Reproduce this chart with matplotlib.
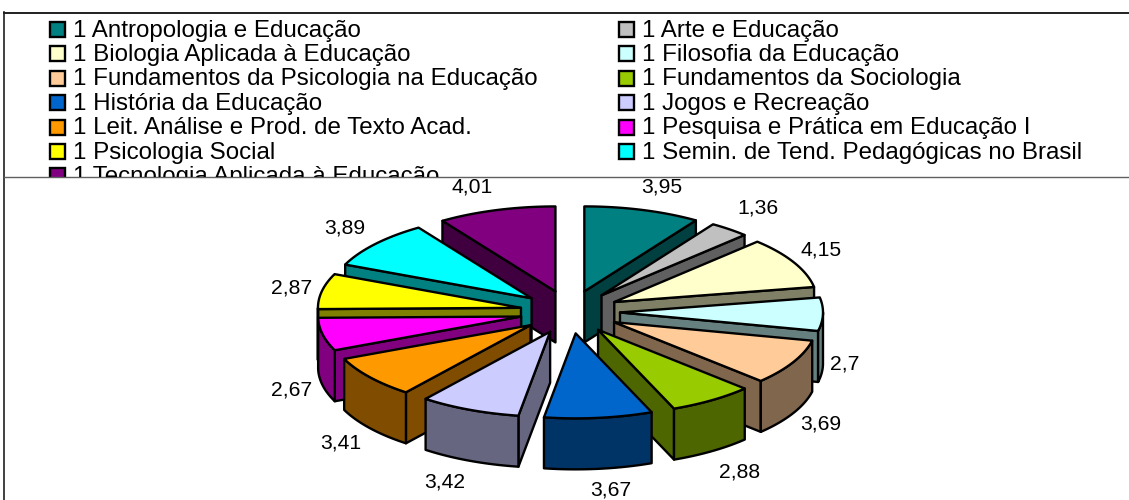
import numpy as np
import matplotlib
matplotlib.use('Agg')
import matplotlib.pyplot as plt
from matplotlib.patches import Polygon, Rectangle
from matplotlib.colors import to_rgb

plt.rcParams['font.family'] = ['Liberation Sans', 'DejaVu Sans']

names = ['1 Antropologia e Educação', '1 Arte e Educação', '1 Biologia Aplicada à Educação',
         '1 Filosofia da Educação', '1 Fundamentos da Psicologia na Educação',
         '1 Fundamentos da Sociologia', '1 História da Educação', '1 Jogos e Recreação',
         '1 Leit. Análise e Prod. de Texto Acad.', '1 Pesquisa e Prática em Educação I',
         '1 Psicologia Social', '1 Semin. de Tend. Pedagógicas no Brasil',
         '1 Tecnologia Aplicada à Educação']
values = [3.95, 1.36, 4.15, 2.7, 3.69, 2.88, 3.67, 3.42, 3.41, 2.67, 2.87, 3.89, 4.01]
labels = ['3,95', '1,36', '4,15', '2,7', '3,69', '2,88', '3,67', '3,42', '3,41', '2,67', '2,87', '3,89', '4,01']
colors = ['#008080', '#C0C0C0', '#FFFFCC', '#CCFFFF', '#FFCC99', '#99CC00', '#0066CC',
          '#CCCCFF', '#FF9900', '#FF00FF', '#FFFF00', '#00FFFF', '#800080']

# pie geometry in pixels
cx, cy = 570, 312
rx, ry = 203, 85
ex, ey = 50, 21.5
depth = 51
# small nudges for the value labels
lab_dx = [14, 18, 12, 5, 13, 18, 10, -18, -16, -14, -14, -18, -19]
lab_dy = [-5, -7, -4, 48, 29, 15, 4, 9, 24, 41, 0, -4, -5]


def dark(c):
    r, g, b = to_rgb(c)
    return (r * 0.5, g * 0.5, b * 0.5)


def rim(ax0, ay0, t):
    return ax0 + rx * np.sin(t), ay0 - ry * np.cos(t)


def draw_wedge(ax, t0, t1, c):
    mid = (t0 + t1) / 2
    ax0 = cx + ex * np.sin(mid)
    ay0 = cy - ey * np.cos(mid)
    lw = 1.7
    # radial walls, only the ones facing the viewer
    for t, vis in ((t0, np.sin(t0) < 0), (t1, np.sin(t1) > 0)):
        if vis:
            x, y = rim(ax0, ay0, t)
            ax.add_patch(Polygon([(ax0, ay0), (x, y), (x, y + depth), (ax0, ay0 + depth)],
                                 fc=dark(c), ec='k', lw=lw, joinstyle='round'))
    # outer wall for the front part of the rim
    a = max(t0, np.pi / 2)
    b = min(t1, 3 * np.pi / 2)
    if b > a:
        ts = np.linspace(a, b, 40)
        x, y = rim(ax0, ay0, ts)
        pts = list(zip(x, y)) + list(zip(x[::-1], y[::-1] + depth))
        ax.add_patch(Polygon(pts, fc=dark(c), ec='k', lw=lw, joinstyle='round'))
    # top face
    ts = np.linspace(t0, t1, 60)
    x, y = rim(ax0, ay0, ts)
    pts = [(ax0, ay0)] + list(zip(x, y))
    ax.add_patch(Polygon(pts, fc=c, ec='k', lw=lw, joinstyle='round'))


fig = plt.figure(figsize=(11.29, 5), dpi=100)
ax = fig.add_axes([0, 0, 1, 1])
ax.set_xlim(0, 1129)
ax.set_ylim(500, 0)
ax.axis('off')

# frame
ax.plot([3.5, 3.5], [12, 500], color='#202020', lw=1.2)
ax.plot([3.5, 1129], [12.5, 12.5], color='#202020', lw=1.4)
ax.plot([3.5, 1129], [177, 177], color='#606060', lw=1)

# legend, filled row by row and clipped at the chart area
clip = Rectangle((0, 12), 1129, 165, transform=ax.transData)
for i, (n, c) in enumerate(zip(names, colors)):
    row = i // 2
    col = i % 2
    y = 29.5 + row * 24.4
    x = 50 + col * 569
    s = Rectangle((x, y - 7.5), 14.5, 15, fc=c, ec='k', lw=1.7)
    ax.add_patch(s)
    s.set_clip_path(clip)
    t = ax.text(x + 23, y + 7, n, fontsize=17.35, va='baseline', ha='left', color='k', clip_on=True)
    t.set_clip_path(clip)

# pie, back wedges first
total = sum(values)
edges = np.cumsum([0] + values) / total * 2 * np.pi
mids = (edges[:-1] + edges[1:]) / 2
for i in np.argsort(-np.cos(mids)):
    draw_wedge(ax, edges[i], edges[i + 1], colors[i])

for i, m in enumerate(mids):
    k = 125 if np.cos(m) > 0 else 175
    lx = cx + 270 * np.sin(m) + lab_dx[i]
    ly = cy - k * np.cos(m) + lab_dy[i]
    ax.text(lx, ly, labels[i], fontsize=15.2, ha='center', va='center', color='k')

fig.savefig('out.png', dpi=100)
